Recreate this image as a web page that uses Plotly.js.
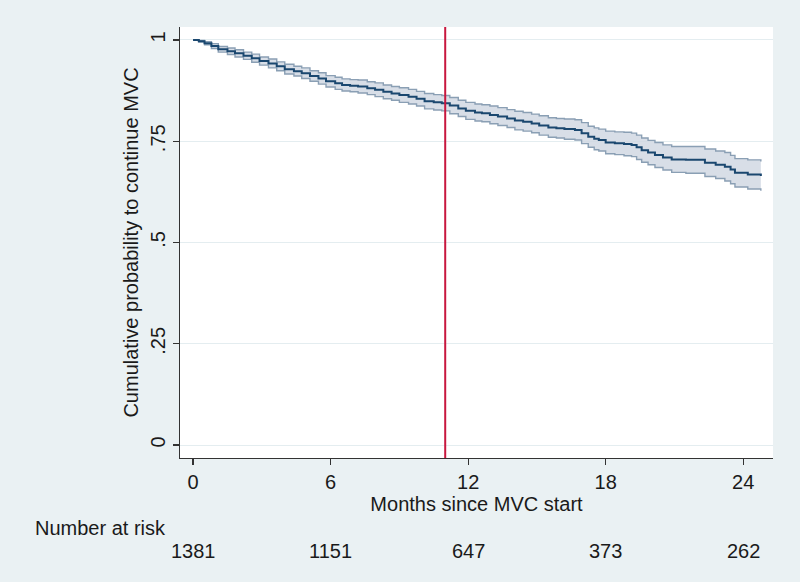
<!DOCTYPE html>
<html>
<head>
<meta charset="utf-8">
<script src="https://cdn.plot.ly/plotly-3.0.1.min.js"></script>
<style>html,body{margin:0;padding:0;background:#eaf1f3;}#chart{width:800px;height:582px;}</style>
</head>
<body>
<div id="chart"></div>
<script>
// Kaplan-Meier estimate
const months = [0,0.25,0.5,0.8,1.1,1.5,1.83,2.2,2.56,2.9,3.29,3.65,4.0,4.4,4.74,5.1,5.47,5.8,6.2,6.5,6.85,7.2,7.6,7.94,8.3,8.66,9.0,9.4,9.75,10.1,10.5,10.85,11.2,11.57,11.9,12.3,12.6,12.95,13.3,13.7,14.04,14.4,14.77,15.1,15.5,15.85,16.2,16.66,16.95,17.24,17.5,17.7,18.0,18.4,18.8,19.13,19.35,19.57,19.85,20.15,20.5,20.88,21.5,22.04,22.33,22.8,23.2,23.45,23.64,24.2,24.77];
const survival = [1.000,0.997,0.992,0.985,0.977,0.972,0.967,0.961,0.955,0.948,0.942,0.935,0.928,0.923,0.918,0.911,0.905,0.898,0.893,0.889,0.887,0.885,0.881,0.877,0.872,0.868,0.864,0.860,0.855,0.849,0.846,0.844,0.838,0.831,0.825,0.821,0.819,0.815,0.811,0.806,0.801,0.798,0.794,0.789,0.784,0.782,0.780,0.778,0.770,0.761,0.756,0.753,0.747,0.745,0.743,0.741,0.735,0.728,0.722,0.716,0.710,0.705,0.704,0.704,0.697,0.692,0.687,0.680,0.672,0.668,0.664];
const upperCI = [1.000,0.999,0.996,0.991,0.984,0.980,0.976,0.970,0.965,0.958,0.953,0.946,0.940,0.935,0.931,0.924,0.919,0.912,0.908,0.904,0.902,0.901,0.897,0.894,0.889,0.885,0.882,0.878,0.873,0.868,0.865,0.863,0.858,0.851,0.846,0.842,0.840,0.837,0.833,0.828,0.824,0.821,0.817,0.813,0.808,0.806,0.805,0.803,0.796,0.787,0.783,0.780,0.775,0.773,0.772,0.770,0.765,0.758,0.752,0.747,0.741,0.737,0.737,0.737,0.731,0.726,0.722,0.715,0.707,0.704,0.700];
const lowerCI = [1.000,0.995,0.988,0.979,0.970,0.964,0.958,0.952,0.945,0.938,0.931,0.924,0.916,0.911,0.905,0.898,0.891,0.884,0.878,0.874,0.872,0.869,0.865,0.860,0.855,0.851,0.846,0.842,0.837,0.830,0.827,0.825,0.818,0.811,0.804,0.800,0.798,0.793,0.789,0.784,0.778,0.775,0.771,0.765,0.760,0.758,0.755,0.753,0.744,0.735,0.729,0.726,0.719,0.717,0.714,0.712,0.705,0.698,0.692,0.685,0.679,0.673,0.671,0.671,0.663,0.658,0.652,0.645,0.637,0.632,0.628];

const xTicks = [0, 6, 12, 18, 24];
const yTicks = [0, 0.25, 0.5, 0.75, 1];
const yTickText = ['0', '.25', '.5', '.75', '1'];
const atRiskMonths = [0, 6, 12, 18, 24];
const atRiskCounts = ['1381', '1151', '647', '373', '262'];
const referenceMonth = 11;

const FONT = 'Liberation Sans, Arial, Helvetica, sans-serif';
const TXT = '#1a1a1a';
const FS = 20;

const traces = [
  {x: months, y: lowerCI, type: 'scatter', mode: 'lines', line: {shape: 'hv', color: '#8a9fb4', width: 1.4}, hoverinfo: 'skip', showlegend: false},
  {x: months, y: upperCI, type: 'scatter', mode: 'lines', fill: 'tonexty', fillcolor: 'rgba(206,214,225,0.8)', line: {shape: 'hv', color: '#8a9fb4', width: 1.4}, hoverinfo: 'skip', showlegend: false},
  {x: months, y: survival, type: 'scatter', mode: 'lines', line: {shape: 'hv', color: '#1a476f', width: 2}, showlegend: false}
];

const annotations = [{
  text: 'Number at risk', xref: 'paper', yref: 'paper', x: -0.248, y: -0.1624,
  xanchor: 'left', yanchor: 'middle', showarrow: false, font: {family: FONT, size: FS, color: TXT}
}];
atRiskMonths.forEach((m, i) => annotations.push({
  text: atRiskCounts[i], xref: 'x', yref: 'paper', x: m, y: -0.2158,
  xanchor: 'center', yanchor: 'middle', showarrow: false, font: {family: FONT, size: FS, color: TXT}
}));

const layout = {
  width: 800, height: 582,
  margin: {l: 180, r: 27, t: 27, b: 124, pad: 0},
  paper_bgcolor: '#eaf1f3', plot_bgcolor: '#ffffff',
  font: {family: FONT, size: FS, color: TXT},
  showlegend: false,
  xaxis: {
    range: [-0.57, 25.3], tickvals: xTicks, ticktext: xTicks.map(String),
    ticks: 'outside', ticklen: 6, tickwidth: 1.2, tickcolor: '#333',
    showline: true, linecolor: '#333', linewidth: 1.3, showgrid: false, zeroline: false,
    tickfont: {family: FONT, size: FS, color: TXT},
    title: {text: 'Months since MVC start', font: {family: FONT, size: FS, color: TXT}, standoff: 1}
  },
  yaxis: {
    range: [-0.032, 1.032], tickvals: yTicks, ticktext: yTickText, tickangle: -90,
    ticks: 'outside', ticklen: 6, tickwidth: 1.2, tickcolor: '#333',
    showline: true, linecolor: '#333', linewidth: 1.3,
    showgrid: true, gridcolor: '#e4edf0', gridwidth: 1, zeroline: false,
    tickfont: {family: FONT, size: FS, color: TXT},
    title: {text: 'Cumulative probability to continue MVC', font: {family: FONT, size: FS, color: TXT}, standoff: 2}
  },
  shapes: [{
    type: 'line', xref: 'x', yref: 'paper', x0: referenceMonth, x1: referenceMonth, y0: 0, y1: 1,
    line: {color: '#c8173f', width: 2}
  }],
  annotations: annotations
};

Plotly.newPlot('chart', traces, layout, {displayModeBar: false, staticPlot: true});
</script>
</body>
</html>
